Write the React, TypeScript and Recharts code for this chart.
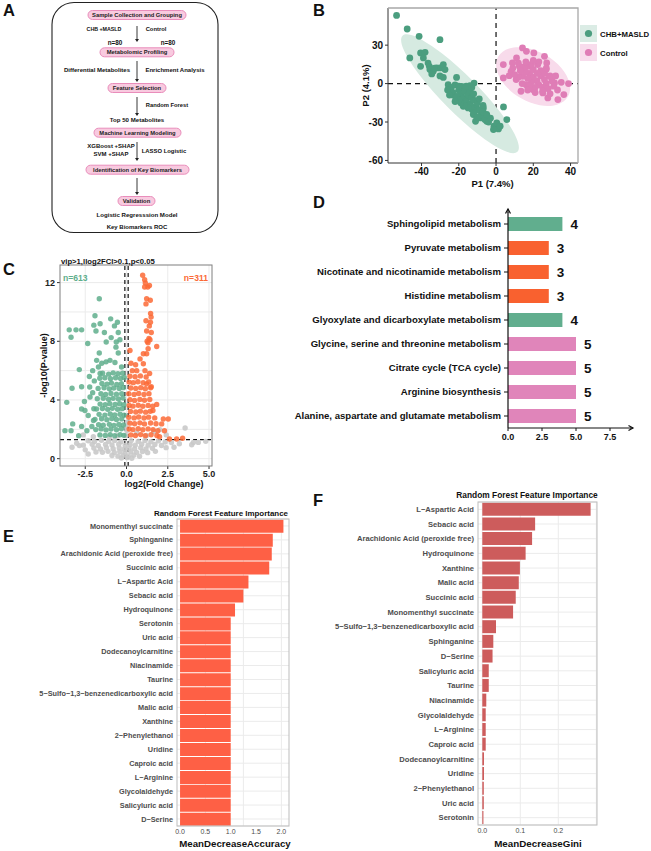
import React from 'react';
import {
  ScatterChart,
  Scatter,
  XAxis,
  YAxis,
  CartesianGrid,
  ReferenceLine,
  BarChart,
  Bar,
  Cell,
  LabelList,
  Curve,
} from 'recharts';

const FF = '"Liberation Sans", Arial, Helvetica, sans-serif';

// B: PCA scores
const pcaCase: [number, number][] = [
  [-53.4, 53.2], [-47.7, 42.6], [-41.3, 36.9], [-30.1, 34.3], [-46.3, 20.0], [-40.5, 23.9], [-38.1, 24.4],
  [-39, 20], [-40.5, 13.5], [-35.8, 13.5], [-35.5, 10.9], [-33.7, 9.6], [-31.9, 12.2], [-30.1, 12.2],
  [-28.3, 14.8], [-27.4, 10.9], [-30.1, 6.0], [-28.3, 4.8], [-21.2, 4.8], [-34.5, 7.5], [-36.5, 16], [-33, 12],
  [-25.7, -0.9], [-24.4, -4.8], [-18.5, -2.2], [-16.7, -3.5], [-11.8, 0.4], [-14, -1.7], [-22.9, -9.2],
  [-21.2, -11.8], [-18.5, -9.2], [-15.8, -11.8], [-14, -9.2], [-17.6, -17.7], [-10.4, -19], [-6.8, -19],
  [-12.2, -24.2], [-8.6, -26.8], [-5.0, -29.4], [-11, -29.4], [-1.1, -33.3], [0.4, -30.7], [1.3, -35.4],
  [4.0, -18.2], [5.8, -28.1], [-1.4, -35.9], [2.2, -33.3],
  [-24, -3], [-22, -1], [-20, -5], [-23, -7], [-19, -8], [-17, -6], [-21, -10], [-18, -12], [-15, -9],
  [-16, -14], [-13, -11], [-14, -16], [-12, -13], [-11, -18], [-13, -20], [-10, -15], [-9, -21], [-12, -23],
  [-8, -25], [-7, -22], [-10, -26], [-6, -28], [-4, -30], [-3, -27], [-15, -19], [-17, -17], [-19, -15],
  [-20, -13], [-14, -5], [-12, -8], [-9, -12], [-7, -17], [-5, -24], [-16, -2], [-26, -5], [-22, -14],
  [-25, -9], [-13, -3], [-20, -2],
];
const pcaControl: [number, number][] = [
  [3.9, 14.8], [3.9, 4.4], [7.1, 6.2], [8.8, 16.1], [11.0, 20], [14.2, 27.8], [16.3, 25.2], [20.3, 23.9],
  [8.1, 9.6], [12.5, 13.5], [15.2, 10.9], [17.9, 13.5], [22.4, 14.8], [26, 21.3], [27.2, 16.1], [26.9, 10.9],
  [28.7, 5.7], [31.4, 0.5], [38.9, 0], [36.4, -8.6], [33.2, -12.5], [27.8, -11.2], [25.1, -7.3], [19.7, -4.7],
  [13.4, -6.0], [16.1, -0.9], [10.8, 3.1], [14.3, 5.7],
  [18, 8], [20, 5], [22, 2], [24, 6], [26, 3], [23, -1], [21, -3], [19, 1], [17, 4], [25, -3], [27, 0],
  [28, -4], [30, 2], [29, 6], [24, 10], [20, 11], [16, 9], [14, 0], [12, 5], [18, -2], [22, 8], [26, 8],
  [31, -2], [33, -5], [15, 13], [19, 15], [23, 17], [13, 10], [10, 7], [17, -5], [25, -6], [29, -8],
  [21, -7], [27, 12], [32, 6], [35, 1], [16, 17], [12, 16], [9, 12], [20, 18],
];
// outline points of the two confidence ellipses
const ellipseCase: [number, number][] = [
  [12.9, -55.4], [12.3, -43.8], [3.1, -22.7], [-12.1, 2.4], [-29.2, 24.7], [-43.7, 38.3],
  [-51.6, 39.5], [-51.0, 27.9], [-41.8, 6.8], [-26.6, -18.3], [-9.5, -40.6], [4.9, -54.2],
];
const ellipseControl: [number, number][] = [
  [39.5, -10.9], [40.3, 0.1], [35.8, 12.5], [26.9, 23.0], [16.1, 28.8], [6.5, 28.4],
  [0.3, 21.8], [-0.5, 10.8], [4.1, -1.6], [12.9, -12.1], [23.7, -17.9], [33.3, -17.5],
];

// C: volcano
const volcNs: [number, number][] = [
  [-2.32, 1.22], [-1.94, 1.17], [-1.52, 1.25], [-1.08, 1.19], [-0.72, 1.24], [-0.33, 1.16], [0.28, 1.23],
  [0.71, 1.18], [1.12, 1.24], [1.48, 1.15], [1.93, 1.21], [2.34, 1.14], [2.72, 1.1],
  [-2.62, 0.92], [-2.08, 0.98], [-1.71, 0.9], [-1.27, 0.97], [-0.88, 0.93], [-0.47, 0.99], [-0.08, 0.9],
  [0.22, 0.96], [0.53, 0.91], [0.92, 0.98], [1.31, 0.92], [1.72, 0.97], [2.12, 0.9],
  [-1.98, 0.72], [-1.58, 0.66], [-1.22, 0.74], [-0.81, 0.68], [-0.44, 0.73], [-0.14, 0.65], [0.16, 0.71],
  [0.49, 0.67], [0.86, 0.74], [1.18, 0.66], [1.57, 0.71],
  [-1.46, 0.44], [-1.12, 0.5], [-0.74, 0.42], [-0.41, 0.48], [-0.09, 0.4], [0.26, 0.47], [0.61, 0.43],
  [0.97, 0.49], [1.28, 0.41],
  [-0.88, 0.22], [-0.52, 0.17], [-0.21, 0.24], [0.11, 0.19], [0.44, 0.23], [0.79, 0.16],
  [-0.31, 0.04], [0.04, 0.07], [0.32, 0.03],
  [-0.04, 1.58], [0.02, 1.92], [-0.06, 2.21], [0.05, 2.48], [3.55, 2.09], [2.02, 1.98], [2.41, 1.62],
  [1.21, 1.58], [-1.02, 1.44], [-2.01, 1.5], [-2.62, 1.62], [0.62, 1.75], [1.65, 1.85], [-0.55, 1.55],
  [-2.86, 0.89], [-2.32, 0.32], [4.05, 1.11], [4.35, 1.11], [4.8, 1.18], [3.95, 0.95], [3.2, 1.02],
  [2.88, 0.78], [-3.02, 1.05], [-3.3, 0.78], [-1.85, 0.45], [1.75, 0.5], [2.4, 0.75], [-2.5, 0.6],
];
const volcDown: [number, number][] = [
  [-3.47, 8.78], [-3.06, 8.78], [-2.72, 8.78], [-3.36, 8.28], [-1.65, 10.9], [-1.91, 9.74], [-1.98, 9.1],
  [-1.85, 8.7], [-1.6, 9.2], [-1.34, 8.6], [-0.96, 9.53], [-0.73, 9.05], [-0.93, 8.25], [-1.23, 7.95],
  [-0.62, 7.95], [-2.35, 7.85], [-0.5, 8.6], [-0.55, 9.3], [-0.4, 8.1], [-1.65, 7.2], [-1.81, 6.7],
  [-1.7, 6.25], [-2.86, 6.07], [-2.05, 6.0], [-1.5, 6.5], [-1.24, 6.6], [-1.0, 6.7], [-0.7, 6.55],
  [-0.5, 7.2], [-0.64, 7.6], [-0.3, 6.25], [-1.6, 5.8],
  [-3.3, 4.8], [-2.23, 4.88], [-2.72, 4.9], [-2.21, 4.2], [-3.62, 3.84], [-2.72, 3.39], [-2.52, 3.28],
  [-2.32, 2.94], [-1.98, 3.4], [-2.0, 2.6], [-3.26, 2.37], [-3.73, 1.91], [-3.36, 1.91], [-2.9, 1.57],
  [-2.72, 2.2], [-2.4, 1.9], [-2.1, 2.2], [-2.55, 3.9], [-2.05, 4.5], [-1.95, 5.3], [-2.25, 5.6],
  [-1.45, 5.82], [-1.08, 5.76], [-0.81, 5.85], [-0.52, 5.79], [-0.24, 5.83],
  [-1.62, 5.48], [-1.31, 5.52], [-0.97, 5.45], [-0.66, 5.51], [-0.36, 5.47], [-0.14, 5.53],
  [-1.49, 5.12], [-1.18, 5.08], [-0.91, 5.15], [-0.59, 5.06], [-0.31, 5.11],
  [-1.72, 4.79], [-1.36, 4.83], [-1.04, 4.76], [-0.77, 4.82], [-0.44, 4.78], [-0.19, 4.84],
  [-1.55, 4.42], [-1.26, 4.37], [-0.94, 4.44], [-0.61, 4.39], [-0.29, 4.43],
  [-1.77, 4.08], [-1.41, 4.12], [-1.09, 4.05], [-0.81, 4.11], [-0.49, 4.07], [-0.21, 4.13],
  [-1.6, 3.72], [-1.29, 3.68], [-1.01, 3.75], [-0.69, 3.7], [-0.41, 3.74], [-0.16, 3.67],
  [-1.82, 3.38], [-1.46, 3.42], [-1.14, 3.36], [-0.86, 3.43], [-0.54, 3.37], [-0.26, 3.41],
  [-1.66, 3.02], [-1.31, 2.97], [-0.99, 3.04], [-0.71, 2.98], [-0.39, 3.03], [-0.14, 2.96],
  [-1.91, 2.68], [-1.51, 2.72], [-1.19, 2.66], [-0.89, 2.73], [-0.61, 2.67], [-0.29, 2.71],
  [-1.69, 2.32], [-1.41, 2.28], [-1.04, 2.34], [-0.76, 2.27], [-0.46, 2.33], [-0.19, 2.29],
  [-1.86, 1.98], [-1.54, 2.03], [-1.24, 1.96], [-0.94, 2.02], [-0.61, 1.97], [-0.31, 2.04],
  [-1.61, 1.62], [-1.29, 1.58], [-0.99, 1.64], [-0.71, 1.57], [-0.39, 1.63], [-0.16, 1.59],
];
const volcUp: [number, number][] = [
  [0.98, 12.5], [1.1, 12.2], [1.14, 11.97], [1.29, 11.7], [1.39, 11.8], [1.1, 11.7], [1.22, 10.9],
  [1.44, 10.8], [1.18, 10.55], [1.46, 9.9], [1.49, 9.65], [1.45, 9.3], [1.18, 9.4], [1.38, 9.05],
  [1.22, 8.7], [1.36, 8.2], [1.5, 8.6], [1.25, 8.0], [1.31, 7.5], [1.83, 7.65], [1.22, 7.15], [1.02, 7.15],
  [0.21, 7.37], [0.27, 6.5], [1.02, 6.47], [1.12, 6.0], [1.4, 5.8], [0.62, 6.0], [0.35, 6.0], [1.22, 5.1],
  [1.5, 4.9], [0.82, 6.8], [0.55, 6.4], [1.83, 3.7], [1.6, 3.28], [2.23, 2.7], [2.53, 2.7], [2.13, 2.37],
  [1.9, 1.9], [2.3, 1.9], [2.6, 1.34], [3.04, 1.34], [3.4, 1.39], [2.0, 1.5], [1.42, 8.1], [1.3, 7.9],
  [0.21, 5.62], [0.52, 5.58], [0.84, 5.64], [1.19, 5.57],
  [0.16, 5.22], [0.41, 5.18], [0.69, 5.24], [1.01, 5.17], [1.34, 5.23],
  [0.26, 4.82], [0.56, 4.78], [0.86, 4.84], [1.14, 4.77], [1.46, 4.83],
  [0.14, 4.42], [0.46, 4.38], [0.74, 4.44], [1.06, 4.37], [1.36, 4.43],
  [0.21, 4.02], [0.49, 3.97], [0.81, 4.04], [1.09, 3.98], [1.41, 4.03],
  [0.16, 3.62], [0.39, 3.58], [0.71, 3.64], [0.99, 3.57], [1.31, 3.63], [1.59, 3.58],
  [0.24, 3.22], [0.56, 3.18], [0.84, 3.24], [1.16, 3.17], [1.44, 3.23],
  [0.14, 2.82], [0.46, 2.78], [0.74, 2.84], [1.06, 2.77], [1.34, 2.83], [1.71, 2.78],
  [0.21, 2.42], [0.49, 2.38], [0.81, 2.44], [1.09, 2.37], [1.46, 2.43], [1.79, 2.38],
  [0.16, 2.02], [0.39, 1.98], [0.71, 2.04], [0.99, 1.97], [1.31, 2.03], [1.61, 1.98],
  [0.26, 1.62], [0.54, 1.58], [0.86, 1.64], [1.14, 1.57], [1.49, 1.63], [1.84, 1.58],
];

// D: enrichment counts
const pathways = [
  'Sphingolipid metabolism',
  'Pyruvate metabolism',
  'Nicotinate and nicotinamide metabolism',
  'Histidine metabolism',
  'Glyoxylate and dicarboxylate metabolism',
  'Glycine, serine and threonine metabolism',
  'Citrate cycle (TCA cycle)',
  'Arginine biosynthesis',
  'Alanine, aspartate and glutamate metabolism',
];
const pathwayCounts = [4, 3, 3, 3, 4, 5, 5, 5, 5];
const countColors: Record<number, string> = { 3: '#f9612f', 4: '#61ae8e', 5: '#e085ba' };

// E / F: random forest importance
const accNames = [
  'Monomenthyl succinate', 'Sphinganine', 'Arachidonic Acid (peroxide free)', 'Succinic acid',
  'L\u2212Aspartic Acid', 'Sebacic acid', 'Hydroquinone', 'Serotonin', 'Uric acid', 'Dodecanoylcarnitine',
  'Niacinamide', 'Taurine', '5\u2212Sulfo\u22121,3\u2212benzenedicarboxylic acid', 'Malic acid', 'Xanthine',
  '2\u2212Phenylethanol', 'Uridine', 'Caproic acid', 'L\u2212Arginine', 'Glycolaldehyde', 'Salicyluric acid',
  'D\u2212Serine',
];
const accValues = [2.04, 1.83, 1.81, 1.76, 1.35, 1.25, 1.085, 1, 1, 1, 1, 1, 1, 1, 1, 1, 1, 1, 1, 1, 1, 1];
const giniNames = [
  'L\u2212Aspartic Acid', 'Sebacic acid', 'Arachidonic Acid (peroxide free)', 'Hydroquinone', 'Xanthine',
  'Malic acid', 'Succinic acid', 'Monomenthyl succinate', '5\u2212Sulfo\u22121,3\u2212benzenedicarboxylic acid',
  'Sphinganine', 'D\u2212Serine', 'Salicyluric acid', 'Taurine', 'Niacinamide', 'Glycolaldehyde',
  'L\u2212Arginine', 'Caproic acid', 'Dodecanoylcarnitine', 'Uridine', '2\u2212Phenylethanol', 'Uric acid',
  'Serotonin',
];
const giniValues = [
  0.285, 0.139, 0.131, 0.114, 0.099, 0.096, 0.088, 0.081, 0.036, 0.029, 0.027, 0.017, 0.017, 0.0105,
  0.009, 0.009, 0.009, 0.0045, 0.0045, 0.004, 0.004, 0.003,
];

const toXY = (arr: [number, number][]) => arr.map(([x, y]) => ({ x, y }));

const dot = (r: number, fill: string, op = 1) => (p: any) =>
  p.cx == null ? <g /> : <circle cx={p.cx} cy={p.cy} r={r} fill={fill} fillOpacity={op} />;

const blob = (fill: string) => (p: any) => (
  <Curve points={p.points} type="basisClosed" fill={fill} stroke="none" />
);

const catTick = (size: number, fill: string) => (p: any) => (
  <text x={p.x} y={p.y} dy="0.35em" textAnchor="end" fontSize={size} fontWeight={700} fill={fill} fontFamily={FF}>
    {p.payload.value}
  </text>
);

const abs = (left: number, top: number): React.CSSProperties => ({ position: 'absolute', left, top });

function PcaPanel() {
  const tick = { fontSize: 10, fontWeight: 700, fill: '#111', fontFamily: FF };
  return (
    <div style={abs(330, 0)}>
      <ScatterChart width={321} height={200} margin={{ top: 8, right: 73, bottom: 15, left: 0 }}>
        <XAxis type="number" dataKey="x" domain={[-58, 44]} ticks={[-40, -20, 0, 20, 40]} allowDataOverflow
          height={22} tickSize={3} tickMargin={2} tick={tick} axisLine={{ stroke: '#333' }} tickLine={{ stroke: '#333' }} />
        <YAxis type="number" dataKey="y" domain={[-62, 59]} ticks={[-60, -30, 0, 30]} allowDataOverflow
          width={58} tickSize={3} tickMargin={2} tick={tick} axisLine={{ stroke: '#333' }} tickLine={{ stroke: '#333' }} />
        <Scatter data={toXY(ellipseCase)} shape={() => <g />} line={blob('#d6eae1')} lineType="joint" isAnimationActive={false} />
        <Scatter data={toXY(ellipseControl)} shape={() => <g />} line={blob('#f8dbeb')} lineType="joint" isAnimationActive={false} />
        <Scatter data={toXY(pcaCase)} shape={dot(3.4, '#4b9e7f')} isAnimationActive={false} />
        <Scatter data={toXY(pcaControl)} shape={dot(3.4, '#df7db6')} isAnimationActive={false} />
        <ReferenceLine x={0} stroke="#111" strokeDasharray="5 4" strokeWidth={1.2} />
        <ReferenceLine y={0} stroke="#111" strokeDasharray="5 4" strokeWidth={1.2} />
      </ScatterChart>
    </div>
  );
}

function VolcanoPanel() {
  const tick = { fontSize: 9, fontWeight: 700, fill: '#222', fontFamily: FF };
  return (
    <div style={abs(0, 250)}>
      <ScatterChart width={260} height={240} margin={{ top: 15, right: 48, bottom: 6, left: 0 }}>
        <CartesianGrid stroke="#ebebeb" horizontalValues={[0, 2, 4, 6, 8, 10, 12]}
          verticalValues={[-3.75, -2.5, -1.25, 0, 1.25, 2.5, 3.75, 5]} />
        <XAxis type="number" dataKey="x" domain={[-4.03, 5.18]} ticks={[-2.5, 0, 2.5, 5]} allowDataOverflow
          tickFormatter={(v: number) => v.toFixed(1)} height={18} tickSize={3} tickMargin={2} tick={tick}
          axisLine={false} tickLine={{ stroke: '#333' }} />
        <YAxis type="number" dataKey="y" domain={[-0.5, 13.2]} ticks={[0, 4, 8, 12]} allowDataOverflow
          width={60} tickSize={3} tickMargin={2} tick={tick} axisLine={false} tickLine={{ stroke: '#333' }} />
        <Scatter data={toXY(volcNs)} shape={dot(2.7, '#c9c9c9', 0.9)} isAnimationActive={false} />
        <Scatter data={toXY(volcDown)} shape={dot(2.7, '#5fae8c', 0.85)} isAnimationActive={false} />
        <Scatter data={toXY(volcUp)} shape={dot(2.7, '#fb6a36', 0.85)} isAnimationActive={false} />
        <ReferenceLine x={-0.1} stroke="#111" strokeDasharray="4 3" strokeWidth={1.2} />
        <ReferenceLine x={0.1} stroke="#111" strokeDasharray="4 3" strokeWidth={1.2} />
        <ReferenceLine y={1.3} stroke="#111" strokeDasharray="4 3" strokeWidth={1.2} />
      </ScatterChart>
    </div>
  );
}

function EnrichPanel() {
  const data = pathways.map((name, i) => ({ name, count: pathwayCounts[i] }));
  const tick = { fontSize: 9, fontWeight: 700, fill: '#111', fontFamily: FF };
  return (
    <div style={abs(290, 200)}>
      <BarChart layout="vertical" width={361} height={250} data={data} margin={{ top: 12, right: 20.6, bottom: 4, left: 0 }}>
        <XAxis type="number" domain={[0, 9]} ticks={[0, 2.5, 5, 7.5]} tickFormatter={(v: number) => v.toFixed(1)}
          height={18} tickSize={3} tickMargin={3} tick={tick} axisLine={{ stroke: '#111', strokeWidth: 1.2 }}
          tickLine={{ stroke: '#111' }} />
        <YAxis type="category" dataKey="name" width={218} interval={0} tickSize={4} tickMargin={3}
          tick={catTick(9.6, '#111')} axisLine={{ stroke: '#111', strokeWidth: 1.2 }} tickLine={{ stroke: '#111' }} />
        <Bar dataKey="count" barSize={14} isAnimationActive={false}>
          {data.map((d, i) => (
            <Cell key={i} fill={countColors[d.count]} />
          ))}
          <LabelList dataKey="count" position="right" offset={8} fill="#111"
            style={{ fontSize: 13.5, fontWeight: 700, fontFamily: FF }} />
        </Bar>
      </BarChart>
    </div>
  );
}

function ImportancePanel(props: {
  names: string[]; values: number[]; left: number; top: number; width: number; height: number;
  margin: any; yWidth: number; domain: [number, number]; ticks: number[]; grid: number[];
  color: string; labelSize: number;
}) {
  const data = props.names.map((name, i) => ({ name, value: props.values[i] }));
  return (
    <div style={abs(props.left, props.top)}>
      <BarChart layout="vertical" width={props.width} height={props.height} data={data} margin={props.margin}
        barCategoryGap="5%">
        <CartesianGrid stroke="#ebebeb" verticalValues={props.grid} />
        <XAxis type="number" domain={props.domain} ticks={props.ticks} allowDataOverflow
          tickFormatter={(v: number) => v.toFixed(1)} height={14} tickSize={2} tickMargin={1.5}
          tickLine={false} axisLine={false} tick={{ fontSize: 7, fill: '#4d4d4d', fontFamily: FF }} />
        <YAxis type="category" dataKey="name" width={props.yWidth} interval={0} tickSize={2} tickMargin={2}
          tickLine={false} axisLine={false} tick={catTick(props.labelSize, '#4d4d4d')} />
        <Bar dataKey="value" fill={props.color} isAnimationActive={false} />
      </BarChart>
    </div>
  );
}

function Pill({ x1, x2, cy, label }: { x1: number; x2: number; cy: number; label: string }) {
  return (
    <g>
      <rect x={x1} y={cy - 4.5} width={x2 - x1} height={9} rx={4.5} fill="#f8cadf" stroke="#e98dbb" strokeWidth={1} />
      <text x={(x1 + x2) / 2} y={cy + 2.1} textAnchor="middle" fontSize={5.8} fontWeight={700} fill="#222">{label}</text>
    </g>
  );
}

function Arrow({ y1, y2 }: { y1: number; y2: number }) {
  return (
    <g stroke="#222" strokeWidth={0.9} fill="#222">
      <line x1={137} y1={y1} x2={137} y2={y2 - 2} />
      <polygon points={`135,${y2 - 3} 139,${y2 - 3} 137,${y2}`} stroke="none" />
    </g>
  );
}

function Overlay() {
  const t = (x: number, y: number, s: string, size: number, anchor = 'start', fill = '#111', weight = 700) => (
    <text x={x} y={y} fontSize={size} textAnchor={anchor as any} fill={fill} fontWeight={weight}>{s}</text>
  );
  return (
    <svg width={651} height={851} style={{ position: 'absolute', left: 0, top: 0, pointerEvents: 'none' }}
      fontFamily={FF}>
      {/* panel letters */}
      {t(3, 16, 'A', 16.5)}
      {t(313, 16, 'B', 16.5)}
      {t(3, 275, 'C', 16.5)}
      {t(313, 208, 'D', 16.5)}
      {t(3, 542, 'E', 16.5)}
      {t(313, 506, 'F', 16.5)}

      {/* A: workflow */}
      <rect x={52} y={2.5} width={166} height={230} rx={22} fill="none" stroke="#222" strokeWidth={1.1} />
      <Pill x1={88} x2={186} cy={15} label="Sample Collection and Grouping" />
      <Arrow y1={26} y2={42} />
      {t(104, 31, 'CHB +MASLD', 5.3, 'middle')}
      {t(156, 31, 'Control', 5.8, 'middle')}
      {t(115, 44.5, 'n=80', 6.3, 'middle')}
      {t(168, 44.5, 'n=80', 6.3, 'middle')}
      <Pill x1={100} x2={174} cy={52.3} label="Metabolomic Profiling" />
      <Arrow y1={61} y2={82} />
      {t(97, 72, 'Differential Metabolites', 6.0, 'middle')}
      {t(175, 72, 'Enrichment Analysis', 6.0, 'middle')}
      <Pill x1={108} x2={166} cy={88} label="Feature Selection" />
      <Arrow y1={97} y2={116} />
      {t(167, 107, 'Random Forest', 5.8, 'middle')}
      {t(137, 122, 'Top 50 Metabolites', 6.1, 'middle')}
      <Pill x1={94} x2={181} cy={132.7} label="Machine Learning Modeling" />
      <Arrow y1={142} y2={161} />
      {t(111, 147.5, 'XGBoost +SHAP', 6.0, 'middle')}
      {t(111, 156, 'SVM +SHAP', 6.0, 'middle')}
      {t(164, 153, 'LASSO Logistic', 5.9, 'middle')}
      <Pill x1={86} x2={189} cy={169.7} label="Identification of Key Biomarkers" />
      <Arrow y1={178} y2={195} />
      <Pill x1={118} x2={155} cy={201} label="Validation" />
      {t(137, 217, 'Logistic Regresssion Model', 6.1, 'middle')}
      {t(137, 229, 'Key Biomarkers ROC', 6.0, 'middle')}

      {/* B: frame, titles, legend */}
      <polyline points="388,8 578,8 578,163" fill="none" stroke="#a8a8a8" strokeWidth={1.3} />
      {t(492.5, 187, 'P1 (7.4%)', 9.5, 'middle')}
      <text transform="translate(369,85.5) rotate(-90)" textAnchor="middle" fontSize={9.5} fontWeight={700} fill="#111">P2 (4.1%)</text>
      <rect x={580} y={25} width={17} height={17} fill="#dbece5" />
      <circle cx={588.5} cy={33.5} r={3.6} fill="#4b9e7f" />
      <rect x={580} y={44} width={17} height={17} fill="#f8dcec" />
      <circle cx={588.5} cy={52.5} r={3.6} fill="#df7db6" />
      {t(600, 36.5, 'CHB+MASLD', 7.8)}
      {t(600, 55.5, 'Control', 7.8)}

      {/* C: frame, titles */}
      <rect x={60} y={265} width={152} height={201} fill="none" stroke="#7f7f7f" strokeWidth={1} />
      {t(61, 264, 'vip>1,llog2FCl>0.1,p<0.05', 7.7)}
      {t(63, 281, 'n=613', 8.6, 'start', '#5fae8c')}
      {t(208, 281, 'n=311', 8.6, 'end', '#fb6a36')}
      {t(124.5, 487, 'log2(Fold Change)', 9)}
      <text transform="translate(47,365.5) rotate(-90)" textAnchor="middle" fontSize={9} fontWeight={700} fill="#111">-log10(P-value)</text>

      {/* D: axis arrows */}
      <g stroke="#111" strokeWidth={1.2} fill="none">
        <line x1={508} y1={212.5} x2={508} y2={209} />
        <polyline points="505.5,213.5 508,209 510.5,213.5" />
        <line x1={630} y1={428} x2={633} y2={428} />
        <polyline points="628.5,425.5 633,428 628.5,430.5" />
      </g>

      {/* E / F: frames, titles */}
      <rect x={177} y={519} width={112} height={307} fill="none" stroke="#bdbdbd" strokeWidth={1} />
      {t(221, 516, 'Random Forest Feature Importance', 7.95, 'middle')}
      {t(235, 847, 'MeanDecreaseAccuracy', 9.7, 'middle')}
      <rect x={478} y={502} width={119} height={323} fill="none" stroke="#bdbdbd" strokeWidth={1} />
      {t(527, 498, 'Random Forest Feature Importance', 8.4, 'middle')}
      {t(538, 847, 'MeanDecreaseGini', 9.8, 'middle')}
    </svg>
  );
}

export default function App() {
  return (
    <div style={{ position: 'absolute', left: 0, top: 0, width: 651, height: 851, background: '#fff', fontFamily: FF }}>
      <PcaPanel />
      <VolcanoPanel />
      <EnrichPanel />
      <ImportancePanel names={accNames} values={accValues} left={0} top={500} width={320} height={351}
        margin={{ top: 19, right: 31, bottom: 11, left: 0 }} yWidth={177} domain={[-0.06, 2.15]}
        ticks={[0, 0.5, 1, 1.5, 2]} grid={[0, 0.25, 0.5, 0.75, 1, 1.25, 1.5, 1.75, 2]} color="#fe6045" labelSize={7.3} />
      <ImportancePanel names={giniNames} values={giniValues} left={320} top={480} width={331} height={371}
        margin={{ top: 22, right: 54, bottom: 12, left: 0 }} yWidth={158} domain={[-0.0113, 0.3018]}
        ticks={[0, 0.1, 0.2]} grid={[0, 0.05, 0.1, 0.15, 0.2, 0.25, 0.3]} color="#cd5c5c" labelSize={7.6} />
      <Overlay />
    </div>
  );
}
